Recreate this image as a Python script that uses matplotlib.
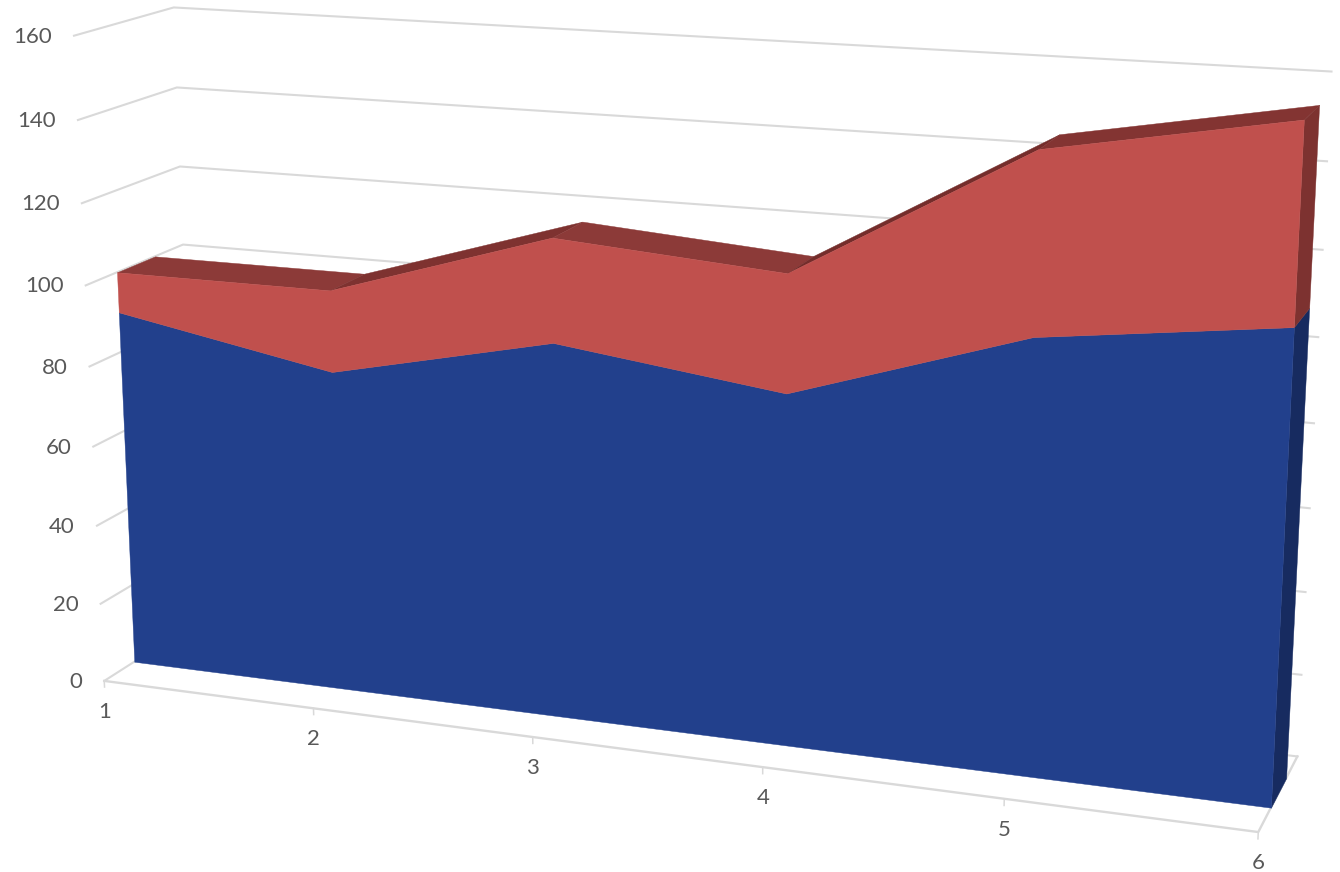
import numpy as np
import matplotlib
matplotlib.use('Agg')
import matplotlib.pyplot as plt
from mpl_toolkits.mplot3d import proj3d
from mpl_toolkits.mplot3d.art3d import Poly3DCollection

plt.rcParams['font.family'] = ['Lato', 'DejaVu Sans']

# data
categories = [1, 2, 3, 4, 5, 6]
blue_values = [90, 80, 92, 85, 103, 110]
red_values = [10, 20, 25, 28, 42, 45]
z_ticks = [0, 20, 40, 60, 80, 100, 120, 140, 160]

# colours
BLUE = '#22408C'
BLUE_SIDE = '#172B60'
RED = '#C0504D'
RED_SIDE = '#7D3230'
red_top_colors = ['#8C3A38', '#7E3230', '#8C3A38', '#742D2B', '#833432']
GRID = '#D9D9D9'
TEXT = '#595959'

W, H = 1340, 872
fig = plt.figure(figsize=(W / 100, H / 100), dpi=100)
ax = fig.add_subplot(projection='3d', computed_zorder=False)
ax.set_xlim(1, 6)
ax.set_ylim(0, 1)
ax.set_zlim(0, 160)
ax.view_init(14.83, -70.01, 0.01)
ax.set_proj_type('persp', focal_length=0.4629)
ax.set_box_aspect((1, 0.1707, 0.5605), zoom=1.029)
ax.set_position([(664 - W / 2) / W, (459.92 - W / 2) / H, 1, W / H])
ax.set_axis_off()
ax.apply_aspect()

# gridlines on the side and back walls
for z in z_ticks:
    ax.plot([1, 1, 6], [0, 1, 1], [z, z, z], color=GRID, lw=1.5, zorder=1)

# floor and tick marks
ax.plot([1, 6, 6], [0, 0, 1], [0, 0, 0], color=GRID, lw=1.7, zorder=1)
for x in categories:
    ax.plot([x, x], [0, 0], [0, -1.6], color=GRID, lw=1.1, zorder=1)

blue = np.array(blue_values, dtype=float)
total = blue + np.array(red_values)
y0, y1 = 0.31, 0.7


def add_poly(points, color, zorder):
    poly = Poly3DCollection([points], facecolors=color, edgecolors=color, linewidths=0.3, zorder=zorder)
    ax.add_collection3d(poly)


# top surface of the red series
for i in range(len(categories) - 1):
    xa, xb = categories[i], categories[i + 1]
    add_poly([(xa, y0, total[i]), (xb, y0, total[i + 1]), (xb, y1, total[i + 1]), (xa, y1, total[i])],
             red_top_colors[i], 2)

# right hand side
x6 = categories[-1]
add_poly([(x6, y0, 0), (x6, y1, 0), (x6, y1, blue[-1]), (x6, y0, blue[-1])], BLUE_SIDE, 3)
add_poly([(x6, y0, blue[-1]), (x6, y1, blue[-1]), (x6, y1, total[-1]), (x6, y0, total[-1])], RED_SIDE, 3)

# front faces
front_blue = [(categories[0], y0, 0)] + [(x, y0, v) for x, v in zip(categories, blue)] + [(x6, y0, 0)]
add_poly(front_blue, BLUE, 4)
front_red = [(x, y0, v) for x, v in zip(categories, blue)] + \
            [(x, y0, v) for x, v in zip(categories[::-1], total[::-1])]
add_poly(front_red, RED, 4)

# tick labels
M = ax.get_proj()
for z in z_ticks:
    X, Y, _ = proj3d.proj_transform(1, 0, z, M)
    ax.annotate(str(z), xy=(X, Y), xytext=(-22, -1), textcoords='offset pixels', ha='right', va='center',
                fontsize=16, color=TEXT, annotation_clip=False)
for x in categories:
    X, Y, _ = proj3d.proj_transform(x, 0, 0, M)
    ax.annotate(str(x), xy=(X, Y), xytext=(0, -31), textcoords='offset pixels', ha='center', va='center',
                fontsize=16, color=TEXT, annotation_clip=False)

fig.savefig('out.png', dpi=100)
